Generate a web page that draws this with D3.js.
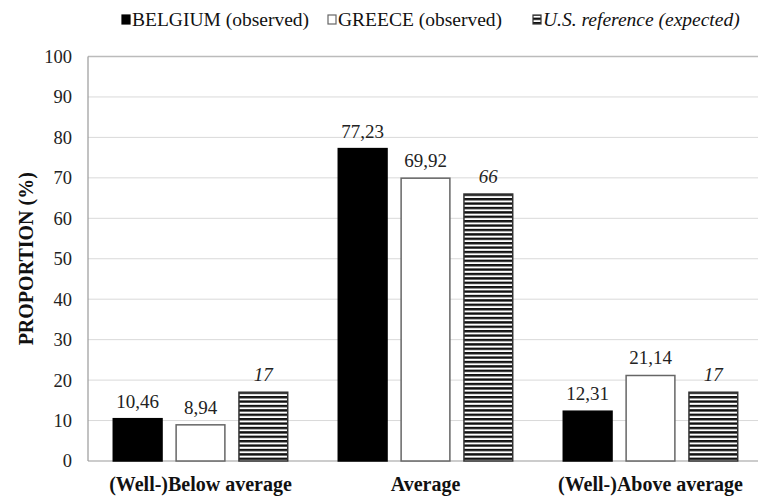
<!DOCTYPE html>
<html><head><meta charset="utf-8">
<script src="https://cdn.jsdelivr.net/npm/d3@7"></script>
<style>body{margin:0;background:#fff}svg{display:block}svg text{font-family:"Liberation Serif",Tinos,"Times New Roman","DejaVu Serif",serif}</style>
</head><body><svg id="c" width="758" height="502"></svg>
<script>
const categories = ["(Well-)Below average", "Average", "(Well-)Above average"];
const seriesNames = ["BELGIUM (observed)", "GREECE (observed)", "U.S. reference (expected)"];
const belgium = [10.46, 77.23, 12.31];
const greece = [8.94, 69.92, 21.14];
const usRef = [17, 66, 17];
const yTicks = [0,10,20,30,40,50,60,70,80,90,100];

const svg = d3.select("#c");
const L = 88, R = 763, T = 56.5, B = 461;
const defs = svg.append("defs");
const pat = defs.append("pattern").attr("id","stripe").attr("patternUnits","userSpaceOnUse")
  .attr("width",8).attr("height",4.4);
pat.append("rect").attr("width",8).attr("height",4.4).attr("fill","#fff");
pat.append("rect").attr("width",8).attr("height",2.4).attr("fill","#111");

const y = d3.scaleLinear().domain([0,100]).range([B,T]);
const x0 = d3.scaleBand().domain(categories).range([L,R]).paddingInner(0.218).paddingOuter(0.109);
const x1 = d3.scaleBand().domain(seriesNames).range([0,x0.bandwidth()]).paddingInner(0.2);

svg.append("g").selectAll("line").data(yTicks.filter(d=>d>0)).join("line")
  .attr("x1",L).attr("x2",R).attr("y1",d=>y(d)).attr("y2",d=>y(d))
  .attr("stroke",d=>d===100?"#bbb":"#d9d9d9").attr("stroke-width",d=>d===100?1.5:1);
svg.append("line").attr("x1",L).attr("x2",L).attr("y1",T).attr("y2",B).attr("stroke","#999").attr("stroke-width",1.2);
svg.append("line").attr("x1",L).attr("x2",R).attr("y1",B).attr("y2",B).attr("stroke","#999").attr("stroke-width",1.2);

const yAxis = d3.axisLeft(y).tickValues(yTicks).tickSize(0).tickPadding(16);
const yg = svg.append("g").attr("transform",`translate(${L},0)`).call(yAxis);
yg.select(".domain").remove();
yg.selectAll("text").attr("font-size",18.5).attr("fill","#222");

const xAxis = d3.axisBottom(x0).tickSize(0).tickPadding(16);
const xg = svg.append("g").attr("transform",`translate(0,${B})`).call(xAxis);
xg.select(".domain").remove();
xg.selectAll("text").attr("font-size",20).attr("font-weight","bold").attr("fill","#111");

svg.append("text").attr("transform",`translate(33,${(T+B)/2}) rotate(-90)`).attr("text-anchor","middle")
  .attr("font-size",20).attr("font-weight","bold").attr("fill","#111").text("PROPORTION (%)");

const series = [
  {name:seriesNames[0], vals:belgium, fill:"#000", stroke:"#000", italic:false, fmt:d=>d3.format(".2f")(d).replace(".",",")},
  {name:seriesNames[1], vals:greece, fill:"#fff", stroke:"#666", italic:false, fmt:d=>d3.format(".2f")(d).replace(".",",")},
  {name:seriesNames[2], vals:usRef, fill:"url(#stripe)", stroke:"#333", italic:true, fmt:d=>String(d)}
];

series.forEach(s=>{
  const g = svg.append("g");
  g.selectAll("rect").data(categories).join("rect")
    .attr("x",c=>x0(c)+x1(s.name)+0.75).attr("width",x1.bandwidth()-1.5)
    .attr("y",(c,i)=>y(s.vals[i])).attr("height",(c,i)=>B-y(s.vals[i]))
    .attr("fill",s.fill).attr("stroke",s.stroke).attr("stroke-width",1.5);
  g.selectAll("text").data(categories).join("text")
    .attr("x",c=>x0(c)+x1(s.name)+x1.bandwidth()/2)
    .attr("y",(c,i)=>y(s.vals[i])-11)
    .attr("text-anchor","middle").attr("font-size",19).attr("fill","#222")
    .attr("font-style",s.italic?"italic":"normal")
    .text((c,i)=>s.fmt(s.vals[i]));
});

const leg = svg.append("g");
const lx = [122, 328, 533];
series.forEach((s,i)=>{
  leg.append("rect").attr("x",lx[i]).attr("y",15).attr("width",8).attr("height",9)
    .attr("fill",i===2?"url(#stripe)":s.fill).attr("stroke",s.stroke).attr("stroke-width",1.2);
  leg.append("text").attr("x",lx[i]+10).attr("y",26).attr("font-size",19.5).attr("fill","#111")
    .attr("font-style",s.italic?"italic":"normal").text(s.name);
});
</script></body></html>
